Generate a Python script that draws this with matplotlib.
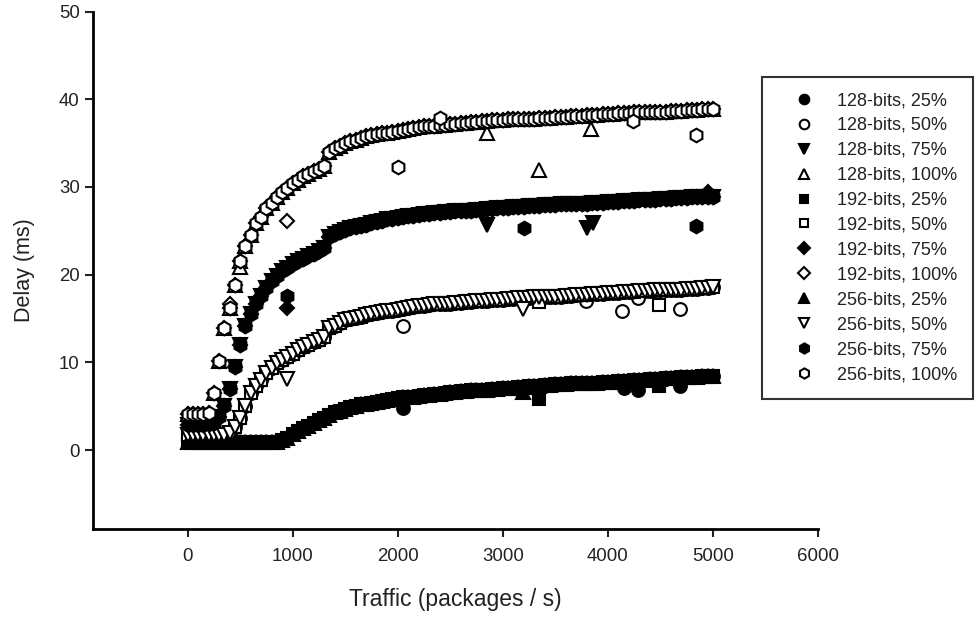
#!/usr/bin/env python3
"""
Delay vs traffic for the 12 key-size / load combinations.
Writes out.png (976x619).
"""
import matplotlib
matplotlib.use("Agg")
import matplotlib.pyplot as plt
from matplotlib.lines import Line2D

plt.rcParams['font.family'] = ['Liberation Sans', 'DejaVu Sans']

# traffic sweep (packages / s)
traffic = list(range(0, 5001, 50))

# main delay curves (ms), one per load level
delay_100 = [
    4.1, 4.1, 4.1, 4.1, 4.2, 6.5, 10.2, 13.9, 16.2, 18.8,
    21.5, 23.3, 24.5, 25.9, 26.6, 27.6, 28.2, 28.8, 29.4, 29.9,
    30.4, 30.8, 31.2, 31.5, 31.8, 32.1, 32.4, 34.0, 34.4, 34.7,
    35.0, 35.2, 35.4, 35.6, 35.8, 35.9, 36.0, 36.1, 36.2, 36.3,
    36.4, 36.5, 36.6, 36.7, 36.8, 36.9, 36.9, 37.0, 37.1, 37.1,
    37.2, 37.2, 37.3, 37.3, 37.4, 37.4, 37.5, 37.5, 37.6, 37.6,
    37.6, 37.7, 37.7, 37.7, 37.8, 37.8, 37.8, 37.9, 37.9, 37.9,
    38.0, 38.0, 38.0, 38.1, 38.1, 38.1, 38.2, 38.2, 38.2, 38.3,
    38.3, 38.3, 38.4, 38.4, 38.4, 38.5, 38.5, 38.5, 38.6, 38.6,
    38.6, 38.6, 38.7, 38.7, 38.7, 38.8, 38.8, 38.8, 38.9, 38.9,
    38.9,
]
delay_75 = [
    2.9, 2.9, 2.9, 2.9, 3.0, 3.1, 3.8, 5.0, 7.0, 9.5,
    12.0, 14.2, 15.5, 16.7, 17.6, 18.5, 19.3, 19.9, 20.4, 20.8,
    21.2, 21.5, 21.8, 22.1, 22.4, 22.7, 23.0, 24.3, 24.6, 24.9,
    25.1, 25.3, 25.4, 25.6, 25.7, 25.9, 26.0, 26.1, 26.3, 26.4,
    26.5, 26.6, 26.7, 26.7, 26.8, 26.9, 26.9, 27.0, 27.0, 27.1,
    27.1, 27.2, 27.2, 27.3, 27.3, 27.4, 27.4, 27.5, 27.5, 27.6,
    27.6, 27.6, 27.7, 27.7, 27.7, 27.8, 27.8, 27.8, 27.9, 27.9,
    27.9, 28.0, 28.0, 28.0, 28.1, 28.1, 28.1, 28.2, 28.2, 28.2,
    28.3, 28.3, 28.3, 28.4, 28.4, 28.4, 28.5, 28.5, 28.5, 28.5,
    28.6, 28.6, 28.6, 28.7, 28.7, 28.7, 28.8, 28.8, 28.8, 28.9,
    28.9,
]
delay_50 = [
    1.7, 1.7, 1.7, 1.7, 1.7, 1.7, 1.7, 1.7, 1.9, 2.6,
    3.6, 5.0, 6.5, 7.3, 8.0, 8.8, 9.4, 9.9, 10.3, 10.6,
    11.0, 11.4, 11.7, 12.0, 12.3, 12.6, 12.9, 13.9, 14.2, 14.5,
    14.8, 14.9, 15.1, 15.2, 15.4, 15.5, 15.6, 15.7, 15.8, 15.9,
    16.0, 16.1, 16.2, 16.3, 16.4, 16.4, 16.5, 16.6, 16.6, 16.7,
    16.7, 16.8, 16.8, 16.9, 16.9, 17.0, 17.0, 17.0, 17.1, 17.1,
    17.1, 17.2, 17.2, 17.3, 17.3, 17.3, 17.4, 17.4, 17.4, 17.5,
    17.5, 17.5, 17.6, 17.6, 17.7, 17.7, 17.7, 17.8, 17.8, 17.8,
    17.9, 17.9, 17.9, 18.0, 18.0, 18.0, 18.1, 18.1, 18.1, 18.2,
    18.2, 18.2, 18.3, 18.3, 18.3, 18.4, 18.4, 18.4, 18.5, 18.5,
    18.6,
]
delay_25 = [
    0.9, 0.9, 0.9, 0.9, 0.9, 0.9, 0.9, 0.9, 0.9, 0.9,
    0.9, 0.9, 0.9, 0.9, 0.9, 0.9, 0.9, 0.9, 1.1, 1.4,
    1.8, 2.2, 2.5, 2.8, 3.1, 3.4, 3.7, 4.0, 4.3, 4.5,
    4.7, 4.9, 5.0, 5.2, 5.3, 5.4, 5.5, 5.6, 5.7, 5.8,
    5.9, 6.0, 6.1, 6.1, 6.2, 6.3, 6.3, 6.4, 6.4, 6.5,
    6.6, 6.6, 6.7, 6.7, 6.8, 6.8, 6.9, 6.9, 7.0, 7.0,
    7.1, 7.1, 7.1, 7.2, 7.2, 7.3, 7.3, 7.3, 7.4, 7.4,
    7.5, 7.5, 7.5, 7.6, 7.6, 7.6, 7.7, 7.7, 7.7, 7.8,
    7.8, 7.8, 7.9, 7.9, 7.9, 8.0, 8.0, 8.0, 8.1, 8.1,
    8.1, 8.2, 8.2, 8.2, 8.3, 8.3, 8.3, 8.3, 8.4, 8.4,
    8.4,
]

labels = [
    "128-bits, 25%", "128-bits, 50%", "128-bits, 75%", "128-bits, 100%",
    "192-bits, 25%", "192-bits, 50%", "192-bits, 75%", "192-bits, 100%",
    "256-bits, 25%", "256-bits, 50%", "256-bits, 75%", "256-bits, 100%",
]

# scattered points lying off the main curves
extra_x = [
    [2050, 4150, 4290, 4690],
    [2050, 3790, 4140, 4290, 4690],
    [2850, 3800, 3860],
    [500, 2850, 3350, 3840],
    [3350, 4490],
    [3350, 4490],
    [950, 4950],
    [950, 400],
    [3190],
    [950, 3190],
    [950, 3200, 4840],
    [2000, 2400, 4240, 4840],
]
extra_y = [
    [4.8, 7.1, 6.8, 7.3],
    [14.2, 17.0, 15.9, 17.3, 16.1],
    [25.7, 25.3, 25.9],
    [20.9, 36.1, 31.9, 36.6],
    [5.8, 7.3],
    [16.9, 16.5],
    [16.2, 29.4],
    [26.1, 16.6],
    [6.6],
    [8.1, 16.1],
    [17.6, 25.3, 25.5],
    [32.3, 37.9, 37.5, 35.9],
]

load_curves = [delay_25, delay_50, delay_75, delay_100]
markers = ['o', 'o', 'v', '^', 's', 's', 'D', 'D', '^', 'v', 'h', 'h']
filled = [True, False, True, False, True, False, True, False, True, False, True, False]
sizes = [9.2, 9.2, 9.8, 9.8, 8.6, 8.6, 7.6, 7.6, 9.8, 9.8, 9.8, 9.8]

fig = plt.figure(figsize=(9.76, 6.19), dpi=100)
ax = fig.add_axes([0.0953, 0.1454, 0.838 - 0.0953, 0.9814 - 0.1454])

handles = []
for i, lab in enumerate(labels):
    curve = load_curves[i % 4]
    fc = 'black' if filled[i] else 'white'
    style = dict(linestyle='none', marker=markers[i], markersize=sizes[i],
                 markerfacecolor=fc, markeredgecolor='black', markeredgewidth=1.5)
    ax.plot(traffic, curve, **style)
    ax.plot(extra_x[i], extra_y[i], **style)
    handles.append(Line2D([], [], **style))

ax.set_xlim(-900, 6000)
ax.set_ylim(-9, 50)
ax.set_xticks([0, 1000, 2000, 3000, 4000, 5000, 6000])
ax.set_yticks([0, 10, 20, 30, 40, 50])
for s in ['top', 'right']:
    ax.spines[s].set_visible(False)
for s in ['left', 'bottom']:
    ax.spines[s].set_linewidth(2.0)
ax.tick_params(direction='out', length=6, width=1.5, labelsize=13.4,
               colors='#222222')
ax.tick_params(axis='x', pad=8)
ax.set_xlabel('Traffic (packages / s)', fontsize=16.5, color='#222222', labelpad=16)
ax.set_ylabel('Delay (ms)', fontsize=15.5, color='#222222', labelpad=17)

leg = fig.legend(handles, labels, loc='upper left',
                 bbox_to_anchor=(761.7 / 976, 1 - 76.7 / 619),
                 bbox_transform=fig.transFigure,
                 fontsize=13, frameon=True, fancybox=False,
                 borderpad=0.85, handlelength=2.95, handletextpad=0.37,
                 labelspacing=0.44, markerscale=0.75, borderaxespad=0)
leg.get_frame().set_edgecolor('black')
leg.get_frame().set_linewidth(1.5)
for t in leg.get_texts():
    t.set_color('#222222')

fig.savefig('out.png', dpi=100)
